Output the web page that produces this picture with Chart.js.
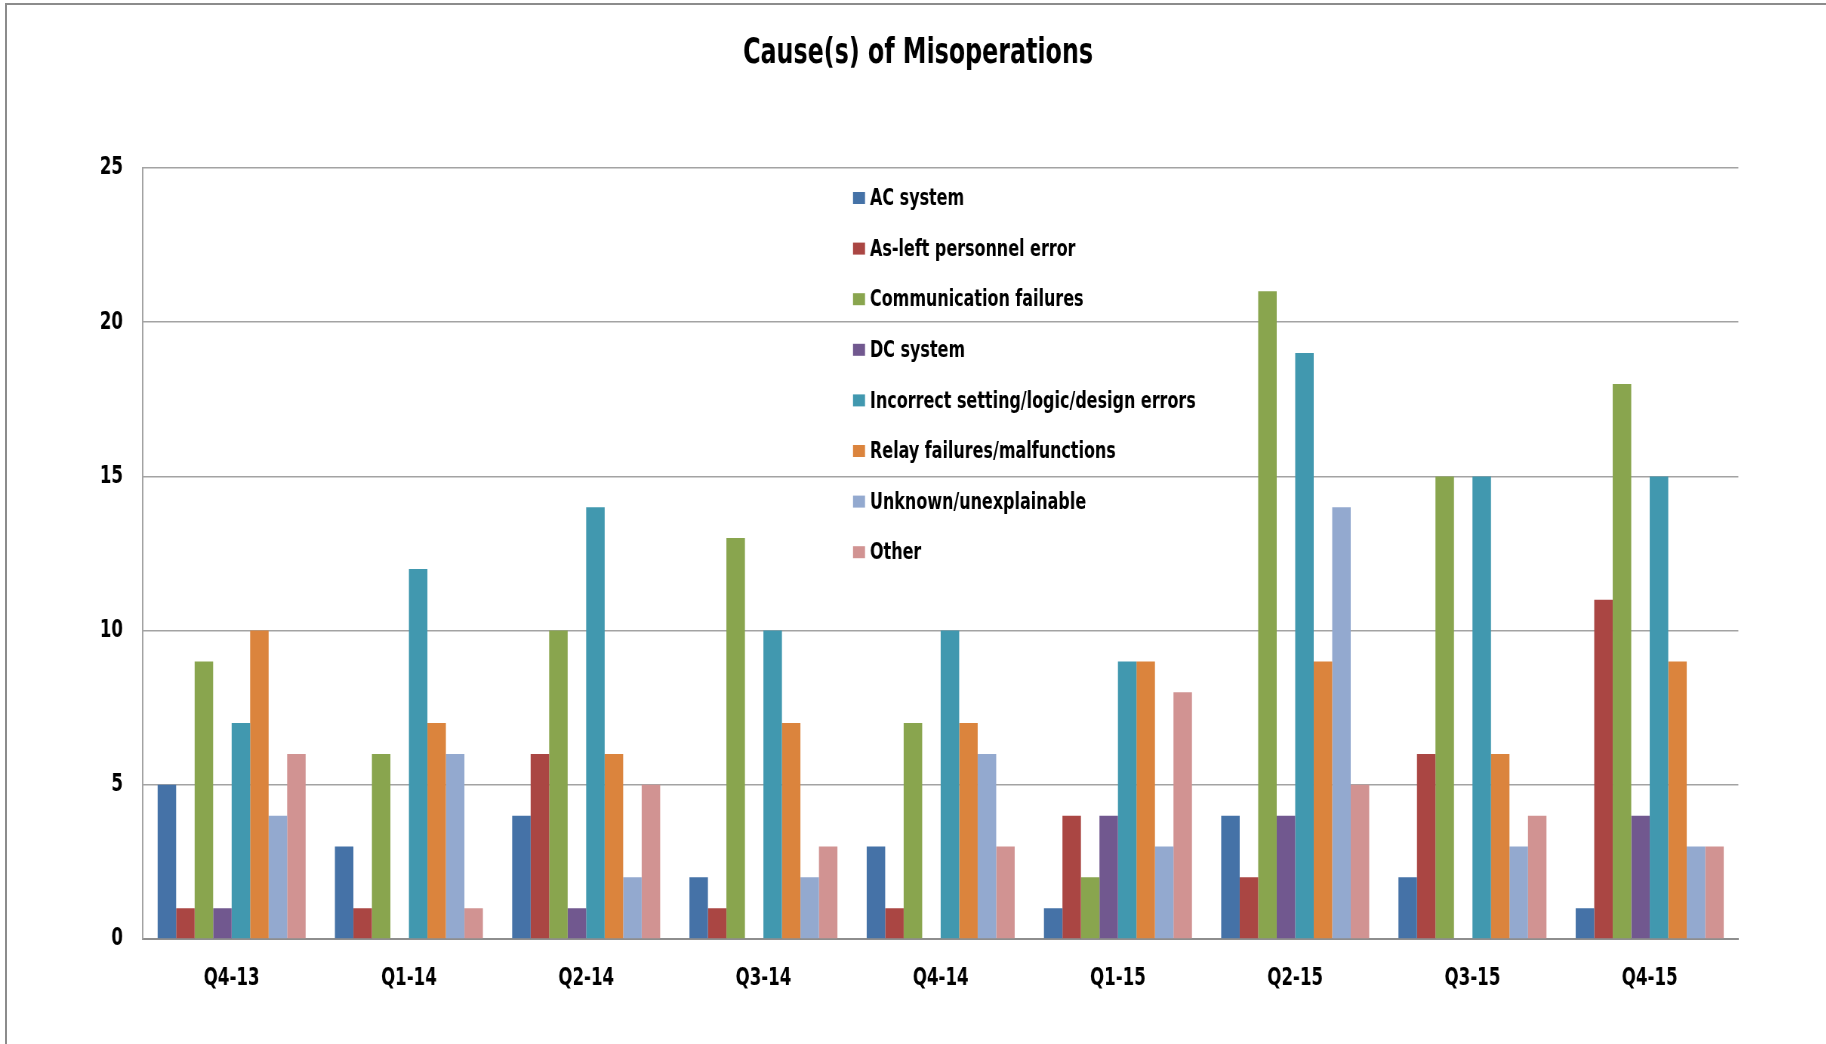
<!DOCTYPE html>
<html>
<head>
<meta charset="utf-8">
<title>Cause(s) of Misoperations</title>
<script src="https://cdn.jsdelivr.net/npm/chart.js@4.4.1/dist/chart.umd.min.js"></script>
<style>
  html, body { margin: 0; padding: 0; background: #ffffff; overflow: hidden; }
  #wrap { position: relative; width: 1826px; height: 1044px; overflow: hidden; }
  #frame {
    position: absolute; left: 5px; top: 3px; width: 1900px; height: 1100px;
    border-top: 2px solid #8c8c8c; border-left: 2px solid #8c8c8c;
    pointer-events: none;
  }
  /* The canvas is drawn wider and squeezed horizontally so that all
     lettering comes out in a condensed face. */
  #chart { position: absolute; left: 0; top: 0; transform: scaleX(0.755); transform-origin: 0 0; }
</style>
</head>
<body>
<div id="wrap">
  <canvas id="chart" width="2419" height="1044"></canvas>
  <div id="frame"></div>
</div>
<script>
// Quarters on the x axis
const quarters = ['Q4-13', 'Q1-14', 'Q2-14', 'Q3-14', 'Q4-14', 'Q1-15', 'Q2-15', 'Q3-15', 'Q4-15'];

// Misoperation counts per cause, one value per quarter
const acSystem        = [5, 3, 4, 2, 3, 1, 4, 2, 1];
const asLeftPersonnel = [1, 1, 6, 1, 1, 4, 2, 6, 11];
const communication   = [9, 6, 10, 13, 7, 2, 21, 15, 18];
const dcSystem        = [1, 0, 1, 0, 0, 4, 4, 0, 4];
const incorrectSetting= [7, 12, 14, 10, 10, 9, 19, 15, 15];
const relayFailures   = [10, 7, 6, 7, 7, 9, 9, 6, 9];
const unknownCause    = [4, 6, 2, 2, 6, 3, 14, 3, 3];
const otherCause      = [6, 1, 5, 3, 3, 8, 5, 4, 3];

// Series names
const causeNames = [
  'AC system',
  'As-left personnel error',
  'Communication failures',
  'DC system',
  'Incorrect setting/logic/design errors',
  'Relay failures/malfunctions',
  'Unknown/unexplainable',
  'Other'
];

// Y axis tick values
const yTicks = [0, 5, 10, 15, 20, 25];

const seriesValues = [acSystem, asLeftPersonnel, communication, dcSystem,
                      incorrectSetting, relayFailures, unknownCause, otherCause];
const seriesColors = ['#4572A7', '#AA4643', '#89A54E', '#71588F',
                      '#4198AF', '#DB843D', '#93A9CF', '#D19392'];

const FONT = '"Liberation Sans Narrow", "Arial Narrow", "DejaVu Sans Condensed", sans-serif';

// Horizontal squeeze applied to the canvas by CSS; x positions below are
// given in screen pixels and divided by it.
const SX = 0.755;

// Legend drawn inside the plot area as a single column
const insideLegend = {
  id: 'insideLegend',
  afterDatasetsDraw(chart) {
    const ctx = chart.ctx;
    const boxX = 853 / SX, boxW = 12 / SX, boxH = 12, textX = 870 / SX, firstY = 198, step = 50.6;
    ctx.save();
    ctx.font = 'bold 23.5px ' + FONT;
    ctx.textBaseline = 'middle';
    ctx.textAlign = 'left';
    chart.data.datasets.forEach((ds, i) => {
      const y = firstY + i * step;
      ctx.fillStyle = ds.backgroundColor;
      ctx.fillRect(boxX, y - boxH / 2, boxW, boxH);
      ctx.fillStyle = '#000000';
      ctx.fillText(ds.label, textX, y + 1);
    });
    ctx.restore();
  }
};

// Chart title, centred over the page
const titleText = {
  id: 'titleText',
  afterDraw(chart) {
    const ctx = chart.ctx;
    ctx.save();
    ctx.font = 'bold 35px ' + FONT;
    ctx.textAlign = 'center';
    ctx.textBaseline = 'middle';
    ctx.fillStyle = '#000000';
    ctx.fillText('Cause(s) of Misoperations', 918 / SX, 54);
    ctx.restore();
  }
};

new Chart(document.getElementById('chart'), {
  type: 'bar',
  data: {
    labels: quarters,
    datasets: causeNames.map((name, i) => ({
      label: name,
      data: seriesValues[i],
      backgroundColor: seriesColors[i],
      borderWidth: 0,
      categoryPercentage: 0.835,
      barPercentage: 1.0
    }))
  },
  options: {
    responsive: false,
    animation: false,
    layout: { padding: { left: 0, top: 168, right: 88 / SX, bottom: 0 } },
    plugins: {
      legend: { display: false },
      title: { display: false },
      tooltip: { enabled: false }
    },
    scales: {
      x: {
        grid: { display: false, drawTicks: false },
        border: { display: true, color: '#8e8e8e', width: 2 },
        ticks: {
          color: '#000000',
          font: { family: FONT, size: 24.5, weight: 'bold' },
          padding: 25,
          maxRotation: 0
        },
        afterFit(scale) { scale.height = 105; }
      },
      y: {
        min: 0,
        max: 25,
        afterBuildTicks(scale) { scale.ticks = yTicks.map(v => ({ value: v })); },
        grid: { color: '#a3a3a3', lineWidth: 1.5, drawTicks: false },
        border: { display: true, color: '#a3a3a3', width: 2 },
        ticks: {
          color: '#000000',
          font: { family: FONT, size: 24.5, weight: 'bold' },
          padding: 20 / SX
        },
        afterFit(scale) { scale.width = 143 / SX; }
      }
    }
  },
  plugins: [insideLegend, titleText]
});
</script>
</body>
</html>
